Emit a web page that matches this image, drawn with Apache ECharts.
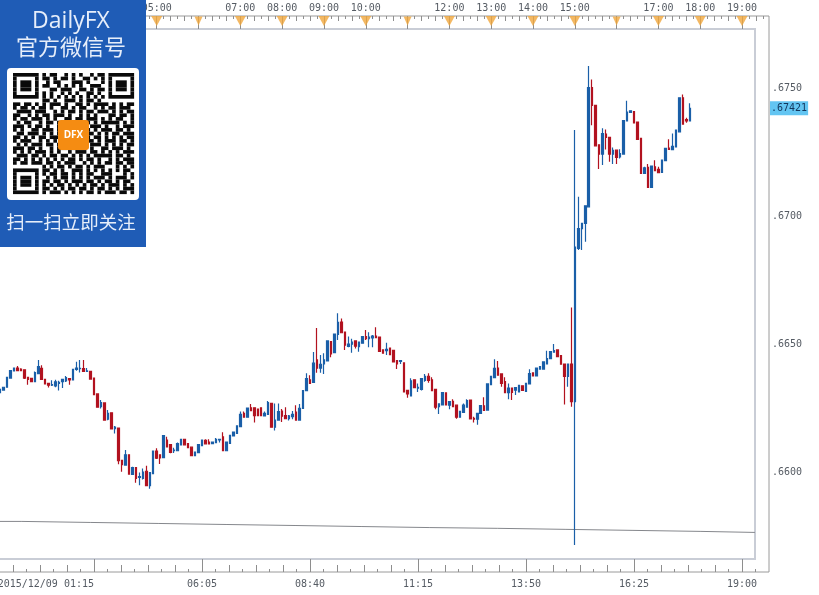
<!DOCTYPE html>
<html><head><meta charset="utf-8">
<style>html,body{margin:0;padding:0;background:#fff}#c{width:819px;height:595px}</style>
<script src="https://cdn.jsdelivr.net/npm/echarts@6/dist/echarts.min.js"></script>
</head><body><div id="c"></div>
<script>
// Bar numbers run from 4; bar 31 is 01:15 and each bar is one 5-minute candle.
const firstBar = 4;
const open = [
.66310,.66320,.66331,.66367,.66395,.66406,.66402,.66399,.66370,.66366,
.66353,.66384,.66405,.66362,.66346,.66339,.66336,.66346,.66353,.66356,
.66365,.66360,.66401,.66404,.66404,.66393,.66393,.66367,.66305,.66255,
.66270,.66206,.66231,.66169,.66172,.66046,.66027,.66067,.65991,.66017,
.65979,.65975,.66003,.65947,.65994,.66082,.66067,.66056,.66125,.66107,
.66083,.66083,.66106,.66128,.66111,.66097,.66064,.66076,.66103,.66124,
.66117,.66111,.66115,.66125,.66137,.66083,.66112,.66141,.66151,.66177,
.66229,.66214,.66251,.66251,.66246,.66251,.66219,.66225,.66268,.66175,
.66203,.66238,.66220,.66208,.66216,.66234,.66203,.66248,.66318,.66360,
.66350,.66438,.66406,.66422,.66434,.66509,.66466,.66538,.66586,.66547,
.66491,.66499,.66512,.66490,.66503,.66529,.66521,.66524,.66531,.66527,
.66477,.66474,.66484,.66475,.66435,.66432,.66426,.66319,.66297,.66360,
.66328,.66323,.66358,.66374,.66360,.66323,.66255,.66262,.66309,.66261,
.66276,.66261,.66214,.66233,.66253,.66281,.66210,.66206,.66229,.66258,
.66242,.66341,.66369,.66406,.66383,.66353,.66310,.66328,.66320,.66313,
.66337,.66315,.66344,.66387,.66375,.66402,.66402,.66422,.66443,.66468,
.66477,.66455,.66422,.66373,.66422,.66275,.66873,.66951,.66971,.67036,
.67502,.67432,.67278,.67242,.67320,.67307,.67242,.67257,.67231,.67242,
.67372,.67405,.67408,.67367,.67303,.67166,.67190,.67112,.67192,.67182,
.67170,.67216,.67265,.67259,.67270,.67329,.67462,.67377,.67372];
const close = [
.66323,.66331,.66370,.66396,.66406,.66396,.66396,.66367,.66362,.66353,
.66388,.66412,.66362,.66344,.66339,.66341,.66352,.66350,.66362,.66369,
.66360,.66401,.66406,.66405,.66393,.66395,.66363,.66302,.66253,.66271,
.66203,.66229,.66168,.66175,.66044,.66029,.66067,.65992,.66017,.65975,
.65982,.66000,.65947,.65998,.66082,.66054,.66055,.66142,.66098,.66077,
.66086,.66111,.66128,.66106,.66095,.66064,.66078,.66107,.66125,.66110,
.66110,.66117,.66128,.66128,.66083,.66117,.66143,.66156,.66180,.66225,
.66214,.66250,.66240,.66220,.66220,.66220,.66229,.66271,.66175,.66203,
.66236,.66218,.66208,.66219,.66225,.66203,.66249,.66318,.66365,.66346,
.66425,.66406,.66421,.66438,.66512,.66461,.66539,.66585,.66544,.66496,
.66500,.66507,.66492,.66507,.66529,.66521,.66527,.66531,.66525,.66471,
.66464,.66479,.66458,.66430,.66422,.66435,.66313,.66305,.66356,.66330,
.66331,.66365,.66374,.66358,.66318,.66253,.66266,.66310,.66262,.66275,
.66255,.66214,.66237,.66261,.66279,.66207,.66206,.66229,.66259,.66241,
.66344,.66374,.66405,.66378,.66346,.66310,.66328,.66311,.66330,.66339,
.66319,.66346,.66384,.66375,.66406,.66412,.66430,.66443,.66470,.66474,
.66451,.66421,.66373,.66422,.66275,.66879,.66951,.66971,.67040,.67502,
.67432,.67274,.67242,.67322,.67307,.67242,.67256,.67229,.67244,.67373,
.67406,.67411,.67364,.67299,.67166,.67188,.67112,.67195,.67177,.67169,
.67218,.67264,.67260,.67272,.67336,.67462,.67359,.67372,.67421];
const low = [
.66310,.66318,.66329,.66365,.66393,.66394,.66394,.66363,.66341,.66351,
.66351,.66382,.66360,.66342,.66330,.66336,.66331,.66318,.66328,.66352,
.66341,.66358,.66396,.66389,.66391,.66391,.66360,.66300,.66251,.66248,
.66201,.66202,.66166,.66150,.66030,.66001,.66025,.65990,.65988,.65958,
.65948,.65971,.65945,.65935,.65992,.66051,.66031,.66054,.66096,.66073,
.66074,.66081,.66104,.66104,.66093,.66062,.66062,.66074,.66101,.66108,
.66107,.66109,.66113,.66115,.66081,.66081,.66110,.66139,.66149,.66175,
.66212,.66212,.66238,.66193,.66218,.66218,.66217,.66223,.66173,.66162,
.66201,.66195,.66206,.66201,.66206,.66201,.66201,.66246,.66316,.66344,
.66348,.66388,.66388,.66383,.66432,.66448,.66464,.66516,.66542,.66477,
.66487,.66466,.66482,.66470,.66501,.66516,.66487,.66487,.66523,.66469,
.66462,.66457,.66456,.66428,.66402,.66422,.66311,.66290,.66295,.66327,
.66313,.66318,.66353,.66349,.66316,.66245,.66227,.66260,.66260,.66245,
.66253,.66208,.66212,.66231,.66251,.66205,.66193,.66185,.66227,.66239,
.66240,.66339,.66367,.66376,.66333,.66308,.66284,.66281,.66301,.66311,
.66317,.66313,.66342,.66373,.66373,.66400,.66400,.66420,.66441,.66466,
.66449,.66419,.66264,.66333,.66255,.65715,.66867,.66867,.66899,.67034,
.67355,.67272,.67184,.67199,.67260,.67212,.67203,.67203,.67225,.67240,
.67370,.67403,.67362,.67297,.67164,.67164,.67110,.67110,.67175,.67167,
.67168,.67214,.67258,.67257,.67268,.67327,.67357,.67364,.67370];
const high = [
.66327,.66333,.66372,.66398,.66408,.66414,.66405,.66401,.66372,.66368,
.66393,.66438,.66417,.66364,.66348,.66358,.66360,.66356,.66364,.66375,
.66367,.66403,.66431,.66438,.66438,.66406,.66395,.66369,.66307,.66281,
.66272,.66242,.66233,.66180,.66174,.66048,.66086,.66069,.66021,.66019,
.65998,.66014,.66024,.66000,.66084,.66093,.66069,.66144,.66138,.66109,
.66095,.66115,.66130,.66130,.66113,.66099,.66080,.66109,.66127,.66128,
.66128,.66119,.66133,.66130,.66155,.66119,.66145,.66158,.66182,.66236,
.66236,.66252,.66266,.66253,.66248,.66253,.66236,.66277,.66270,.66268,
.66268,.66246,.66253,.66223,.66238,.66261,.66266,.66320,.66386,.66378,
.66469,.66563,.66457,.66464,.66514,.66511,.66541,.66620,.66600,.66549,
.66529,.66521,.66514,.66510,.66531,.66555,.66546,.66535,.66565,.66529,
.66479,.66505,.66486,.66477,.66437,.66437,.66428,.66321,.66366,.66362,
.66346,.66367,.66383,.66386,.66370,.66325,.66268,.66312,.66311,.66277,
.66284,.66263,.66239,.66268,.66284,.66283,.66216,.66231,.66261,.66292,
.66346,.66376,.66440,.66434,.66385,.66370,.66346,.66330,.66332,.66341,
.66339,.66348,.66401,.66389,.66408,.66414,.66432,.66474,.66472,.66500,
.66479,.66457,.66424,.66424,.66643,.67336,.67075,.66973,.67042,.67586,
.67533,.67434,.67280,.67343,.67338,.67309,.67268,.67259,.67261,.67375,
.67450,.67413,.67410,.67369,.67305,.67192,.67203,.67197,.67218,.67192,
.67220,.67266,.67300,.67322,.67338,.67464,.67475,.67384,.67440];

const lastPrice = [.67421];
const flatLineBars = [0,10.3,29.9,49.4,68.9,88.7,107.9,127.4,146.9,166.2,185.7,205.2,220.7];
const flatLineValues = [.65807,.65803,.65799,.65795,.65791,.65787,.65783,.65780,.65776,.65772,.65768,.65764,.65764];

const startTickBar = [31];
const startTickLabel = '2015/12/09 01:15';
const bottomTickBars = [62,93,124,155,186,217];
const bottomTickLabels = ['06:05','08:40','11:15','13:50','16:25','19:00'];
const hourBars = [49,61,73,85,97,109,121,133,145,157,169,181,193,205,217];
const hourLabels = ['05:00','','07:00','08:00','09:00','10:00','','12:00','13:00','14:00','15:00','','17:00','18:00','19:00'];
const priceTicks = [.66,.665,.67,.675];
const priceTickLabels = ['.6600','.6650','.6700','.6750'];
const eventLevel = [.67762];

const qrRows = [
"#######.#.##..#.#.#..#.##.#######",
"#.....#.##.#.##.#..##.#.#.#.....#",
"#.###.#..#.##...###.#...#.#.###.#",
"#.###.#.##..#.#.#.#..###..#.###.#",
"#.###.#...##.###..##.#.##.#.###.#",
"#.....#.#.#..#.#.#..##.#..#.....#",
"#######.#.#.#.#.#.#.#.#.#.#######",
"........##.#..###.#.##.#.........",
"##.##.#.#.###.#..##.#.####.#.#.##",
"#.##.#.##.#..##.#.##..#.#.##.###.",
".####.###..#.#.##.#.##.###.#.#.##",
"##..#.#.##.###.#..#.#.#...##.##.#",
"#.##.###.#.#..##.##.###.#.#.##..#",
".#.##..#.##.#.#..#.##.#.#####.#.#",
"###.#.##.#..###.#..#.###.#..#.###",
"#.#..##.###.#..##.#.#.#.###.##.#.",
".##.###.#.#.##.#.##.##.#.#.##.###",
"##.#.#.##.###..#.#..#.##.#.#.#.##",
"#.###..#.#.#.##.###.##.#.###.##.#",
".#.#.###.##.#.#.#..#.###.#.#.#.##",
"###.##.#..#.###.##.#.#..##.###.#.",
"#.#.#.###.#.#..#.###.##.#.#.#.###",
".###.##.#.##.##.#.#.#.#####.##.#.",
"##.#.#.#.#.#.#.##.#.##.#..#.#.###",
"#.##.###.##.#.###..#.#.#.##.##.##",
"........#.#.##.#.##.#.###...#.#.#",
"#######.##.#.#..###.#.#.#.#.#.##.",
"#.....#.#.##.##.#.#.##..###...#.#",
"#.###.#..#.#.##.#.#.#.###.#.###.#",
"#.###.#.##.##.#.###.##.#.##.#.##.",
"#.###.#.#.#.##.#.#.#.##.#.###.#.#",
"#.....#.##.#.#.##.##.#.##.#.#.###",
"#######.#.###.#.#.#.##.#.###.##.#"];

const BLUE = '#1a5fa8', RED = '#b2121f', TICK = '#8e8e8e', LABEL = '#555b63';
const MONO = '"DejaVu Sans Mono", monospace';
const CJK = '"Noto Sans CJK SC", sans-serif';

const candles = open.map((o, i) => [firstBar + i, o, close[i], low[i], high[i]]);
const range = (from, to, step) => { const r = []; for (let v = from; v <= to; v += step) r.push(v); return r; };

const plotX = [0, 220.72], outerX = [0, 224.74];
const plotY = [.656602, .677305], outerY = [.656094, .677813];

function xRuler(position, values, len, label) {
  return {
    type: 'value', gridIndex: 1, position, min: outerX[0], max: outerX[1],
    axisLine: { show: false }, splitLine: { show: false }, minorTick: { show: false },
    axisTick: { show: true, inside: true, length: len, customValues: values, lineStyle: { color: TICK, width: 1 } },
    axisLabel: label || { show: false }
  };
}
function yRuler(values, len, label) {
  return {
    type: 'value', gridIndex: 1, position: 'right', min: outerY[0], max: outerY[1], scale: true,
    axisLine: { show: false }, splitLine: { show: false }, minorTick: { show: false },
    axisTick: { show: len > 0, inside: true, length: len, customValues: values, lineStyle: { color: TICK, width: 1 } },
    axisLabel: label || { show: false }
  };
}

const qrChildren = [];
const QX = 13, QY = 73, QM = 3.67;
qrRows.forEach((row, r) => {
  for (let c = 0; c < row.length; c++) {
    if (row[c] !== '#') continue;
    let e = c; while (e + 1 < row.length && row[e + 1] === '#') e++;
    qrChildren.push({ type: 'rect', z: 102, shape: { x: QX + c * QM, y: QY + r * QM, width: (e - c + 1) * QM, height: QM }, style: { fill: '#0a0a0a' } });
    c = e;
  }
});
const shadow = { shadowColor: 'rgba(0,20,70,.9)', shadowBlur: 2, shadowOffsetX: 1, shadowOffsetY: 1 };

const option = {
  animation: false,
  backgroundColor: '#ffffff',
  grid: [
    { left: -14, width: 769, top: 29, height: 530, show: true, borderColor: '#c9cdd6', borderWidth: 2, backgroundColor: 'transparent', outerBoundsMode: 'none' },
    { left: -14, width: 783, top: 16, height: 556, show: true, borderColor: '#9a9a9a', borderWidth: 1, backgroundColor: 'transparent', outerBoundsMode: 'none' }
  ],
  xAxis: [
    { type: 'value', gridIndex: 0, min: plotX[0], max: plotX[1], show: false },
    xRuler('bottom', bottomTickBars, 13, {
      show: true, customValues: bottomTickBars, margin: 7, color: LABEL, fontFamily: MONO, fontSize: 10, hideOverlap: false,
      formatter: v => bottomTickLabels[bottomTickBars.indexOf(v)]
    }),
    xRuler('bottom', startTickBar, 13, {
      show: true, customValues: startTickBar, margin: 7, color: LABEL, fontFamily: MONO, fontSize: 10, hideOverlap: false,
      align: 'right', formatter: () => startTickLabel
    }),
    xRuler('bottom', range(7.75, 224, 7.75), 7),
    xRuler('bottom', range(3.875, 224, 7.75), 3),
    xRuler('top', hourBars, 13, {
      show: true, customValues: hourBars, margin: 3, color: LABEL, fontFamily: MONO, fontSize: 10, hideOverlap: false,
      formatter: v => hourLabels[hourBars.indexOf(v)]
    }),
    xRuler('top', range(1, 224, 4), 5),
    xRuler('top', range(3, 224, 4), 3)
  ],
  yAxis: [
    { type: 'value', gridIndex: 0, min: plotY[0], max: plotY[1], show: false, scale: true },
    yRuler(priceTicks, 14, {
      show: true, customValues: priceTicks, margin: 3, color: LABEL, fontFamily: MONO, fontSize: 10, hideOverlap: false,
      formatter: v => priceTickLabels[priceTicks.indexOf(v)]
    }),
    yRuler(range(0, 8, 1).map(k => +(.6575 + k * .0025).toFixed(4)), 7),
    yRuler(range(0, 43, 1).map(k => +(.6565 + k * .0005).toFixed(4)), 4),
    yRuler([], 0, {
      show: true, customValues: lastPrice, margin: 1, color: '#12365c', fontFamily: MONO, fontSize: 10, hideOverlap: false,
      backgroundColor: '#63c5f2', padding: [2, 1, 2, 1], formatter: v => v.toFixed(5).slice(1)
    })
  ],
  series: [
    {
      type: 'line', xAxisIndex: 0, yAxisIndex: 0, step: 'end', showSymbol: false, silent: true,
      data: flatLineBars.map((b, i) => [b, flatLineValues[i]]), lineStyle: { color: '#85878c', width: 1 }, z: 2
    },
    {
      type: 'candlestick', xAxisIndex: 0, yAxisIndex: 0, barWidth: 2, data: candles, z: 3,
      itemStyle: { color: BLUE, color0: RED, borderColor: BLUE, borderColor0: RED, borderWidth: 1.2 }
    },
    {
      type: 'scatter', xAxisIndex: 1, yAxisIndex: 1, silent: true, symbol: 'triangle', symbolRotate: 180, z: 4,
      symbolSize: (v, p) => hourLabels[p.dataIndex] ? [11, 10] : [8, 9],
      itemStyle: { color: '#f0a63c' },
      data: hourBars.map(b => [b, eventLevel[0]])
    }
  ],
  graphic: { z: 100, elements: [
    { type: 'rect', z: 100, shape: { x: 0, y: 0, width: 146, height: 247 }, style: { fill: '#1f5cb6' } },
    { type: 'text', z: 101, style: Object.assign({ text: 'DailyFX', x: 71, y: 21, align: 'center', verticalAlign: 'middle', fill: '#e6eefa', font: '23px "Open Sans", sans-serif' }, shadow) },
    { type: 'text', z: 101, style: Object.assign({ text: '官方微信号', x: 71, y: 47, align: 'center', verticalAlign: 'middle', fill: '#e6eefa', font: '22px ' + CJK }, shadow) },
    { type: 'rect', z: 101, shape: { x: 7, y: 68, width: 132, height: 132, r: 4 }, style: { fill: '#ffffff' } },
    { type: 'group', children: qrChildren },
    { type: 'rect', z: 103, shape: { x: 58, y: 120, width: 31, height: 30, r: 3 }, style: { fill: '#f58c12' } },
    { type: 'text', z: 104, style: { text: 'DFX', x: 73.5, y: 135, align: 'center', verticalAlign: 'middle', fill: '#ffffff', font: 'bold 10px "Open Sans", sans-serif' } },
    { type: 'text', z: 101, style: Object.assign({ text: '扫一扫立即关注', x: 71, y: 222, align: 'center', verticalAlign: 'middle', fill: '#e6eefa', font: '18.5px ' + CJK }, shadow) }
  ] }
};
const chart = echarts.init(document.getElementById('c'), null, { renderer: 'canvas', width: 819, height: 595 });
chart.setOption(option);
</script></body></html>
